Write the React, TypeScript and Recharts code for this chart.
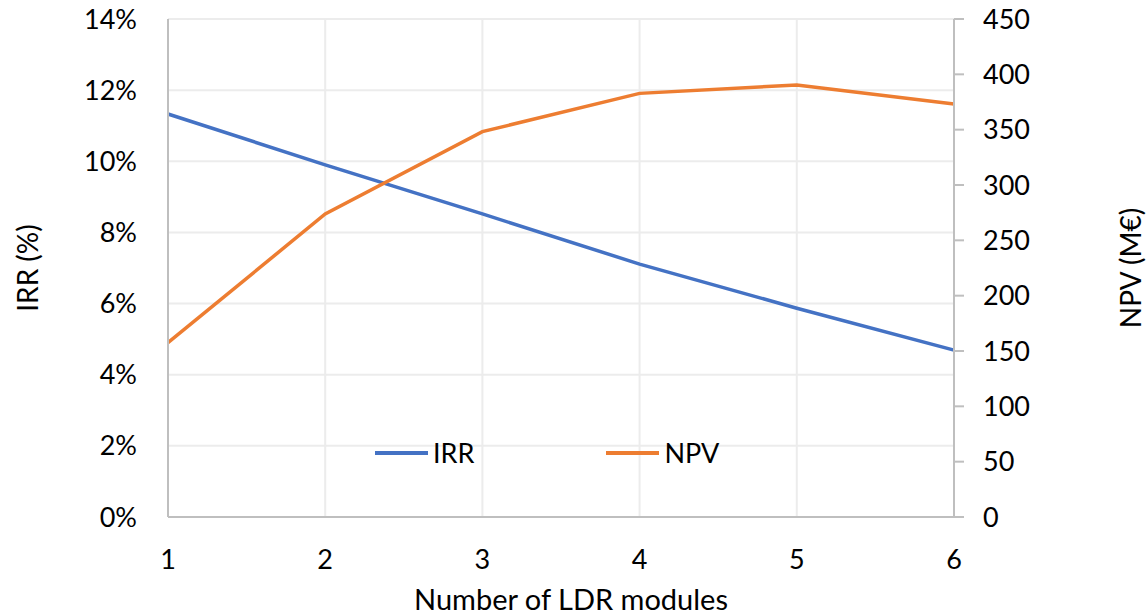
import React from "react";
import {
  LineChart,
  Line,
  XAxis,
  YAxis,
  CartesianGrid,
  Legend,
} from "recharts";

const modules = [1, 2, 3, 4, 5, 6];
const irr = [11.33, 9.9, 8.52, 7.11, 5.87, 4.69];
const npv = [157.5, 273.8, 348.2, 382.8, 390.4, 373.2];
const irrTicks = [0, 2, 4, 6, 8, 10, 12, 14];
const npvTicks = [0, 50, 100, 150, 200, 250, 300, 350, 400, 450];

const data = modules.map((m, i) => ({ modules: m, irr: irr[i], npv: npv[i] }));

const FONT = "Lato, 'Open Sans', sans-serif";
const TEXT = "#000000";
const BLUE = "#4472C4";
const ORANGE = "#ED7D31";

function VerticalTitle({ viewBox, value, cx }: any) {
  const cy = viewBox.y + viewBox.height / 2;
  return (
    <text
      x={cx}
      y={cy}
      transform={`rotate(-90, ${cx}, ${cy})`}
      textAnchor="middle"
      dominantBaseline="central"
      fontFamily={FONT}
      fontSize={28}
      fill={TEXT}
    >
      {value}
    </text>
  );
}

function BottomTitle({ value }: any) {
  return (
    <text
      x={571}
      y={610}
      textAnchor="middle"
      fontFamily={FONT}
      fontSize={29}
      fill={TEXT}
    >
      {value}
    </text>
  );
}

function LegendContent({ payload }: any) {
  return (
    <div style={{ display: "flex", fontFamily: FONT, fontSize: 27 }}>
      {(payload || []).map((p: any, i: number) => (
        <div
          key={p.value}
          style={{
            display: "flex",
            alignItems: "center",
            marginRight: i === 0 ? 132 : 0,
          }}
        >
          <span
            style={{
              display: "inline-block",
              width: 53,
              height: 4,
              background: p.color,
              marginRight: 5,
            }}
          />
          <span style={{ color: TEXT }}>{p.value}</span>
        </div>
      ))}
    </div>
  );
}

export default function App() {
  return (
    <div style={{ position: "absolute", left: 0, top: 0, background: "#fff" }}>
      <LineChart
        width={1146}
        height={615}
        data={data}
        margin={{ top: 19, right: 0, bottom: 0, left: 0 }}
      >
        <CartesianGrid yAxisId="left" stroke="#ececec" strokeWidth={2} />
        <XAxis
          dataKey="modules"
          type="number"
          domain={[1, 6]}
          ticks={modules}
          height={98}
          axisLine={{ stroke: "#bfbfbf", strokeWidth: 2 }}
          tickLine={false}
          tickSize={0}
          tickMargin={33}
          tick={{ fill: TEXT, fontFamily: FONT, fontSize: 27 }}
          label={<BottomTitle value="Number of LDR modules" />}
        />
        <YAxis
          yAxisId="left"
          width={168}
          domain={[0, 14]}
          ticks={irrTicks}
          tickFormatter={(v: number) => `${v}%`}
          axisLine={{ stroke: "#bfbfbf", strokeWidth: 2 }}
          tickLine={false}
          tickSize={29}
          tickMargin={2}
          tick={{ fill: TEXT, fontFamily: FONT, fontSize: 27 }}
          label={<VerticalTitle value="IRR (%)" cx={27} />}
        />
        <YAxis
          yAxisId="right"
          orientation="right"
          width={192}
          domain={[0, 450]}
          ticks={npvTicks}
          axisLine={{ stroke: "#bfbfbf", strokeWidth: 2 }}
          tickLine={{ stroke: "#bfbfbf", strokeWidth: 2 }}
          tickSize={10}
          tickMargin={19}
          tick={{ fill: TEXT, fontFamily: FONT, fontSize: 27 }}
          label={<VerticalTitle value="NPV (M€)" cx={1130} />}
        />
        <Legend
          content={<LegendContent />}
          verticalAlign="middle"
          layout="horizontal"
          wrapperStyle={{ left: 375, top: 436, width: "auto" }}
        />
        <Line
          yAxisId="left"
          dataKey="irr"
          name="IRR"
          stroke={BLUE}
          strokeWidth={3.5}
          dot={false}
          isAnimationActive={false}
        />
        <Line
          yAxisId="right"
          dataKey="npv"
          name="NPV"
          stroke={ORANGE}
          strokeWidth={3.5}
          dot={false}
          isAnimationActive={false}
        />
      </LineChart>
    </div>
  );
}
